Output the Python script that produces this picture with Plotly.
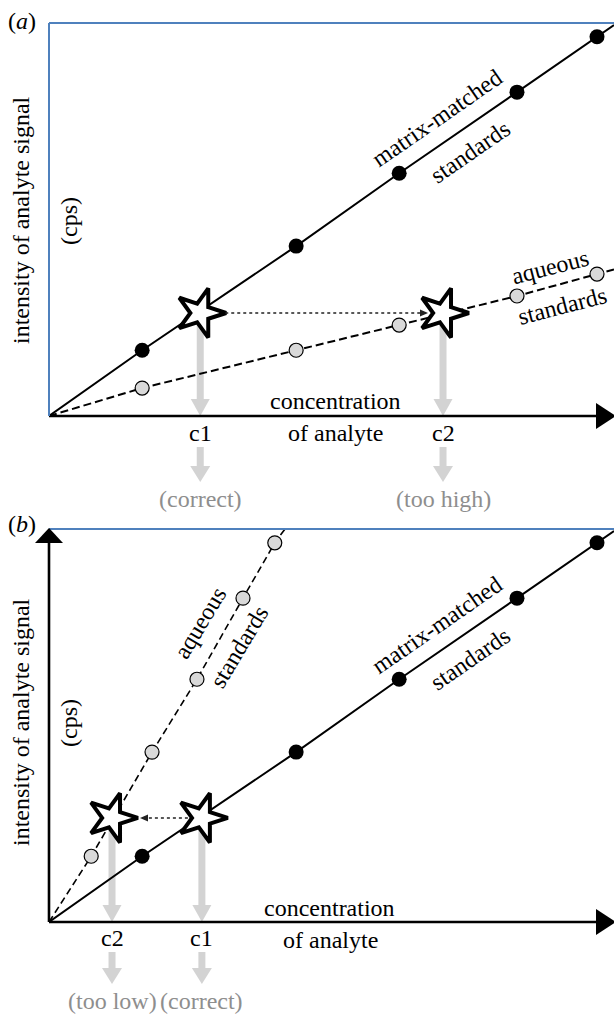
import math
import plotly.graph_objects as go

# ---------------- data ----------------
std_conc = [1.70, 4.51, 6.39, 8.54, 10.0]          # standards concentrations (matrix-matched; aqueous in (a))
matrix_signal = [1.20, 3.10, 4.43, 5.91, 6.92]      # matrix-matched standards signal (both panels)
aq_signal_a = [0.51, 1.20, 1.66, 2.19, 2.59]        # aqueous standards signal, panel (a)
aq_conc_b = [0.77, 1.88, 2.70, 3.54, 4.12]          # aqueous standards concentration, panel (b)
aq_signal_b = [1.20, 3.10, 4.43, 5.91, 6.92]        # aqueous standards signal, panel (b)
sample_signal = {"a": 1.88, "b": 1.90}
sample_conc = {"a": {"c1": 2.76, "c2": 7.19}, "b": {"c1": 2.79, "c2": 1.15}}
verdicts = {"a": {"c1": "(correct)", "c2": "(too high)"},
            "b": {"c1": "(correct)", "c2": "(too low)"}}

# ---------------- layout constants (pixels) ----------------
W, H = 614, 1014
X0 = 49            # origin x (px)
S = 54.8           # px per data unit (both axes)
Y0 = {"a": 416, "b": 922}   # origin y (px)
YT = {"a": 23, "b": 529}    # top of panel (px)
XMAX = (W - X0) / S
YMAX = (Y0["a"] - YT["a"]) / S

FONT = "Liberation Serif, Times New Roman, serif"
FS = 24
GRAY = "#d3d3d3"
TXTGRAY = "#8e8e8e"
BLUE = "#4f81bd"


def px(p):
    return p / W


def py(p):
    return 1 - p / H


def PX(c):
    return px(X0 + c * S)


def PY(v, panel):
    return py(Y0[panel] - v * S)


def slope(xs, ys):
    return sum(a * b for a, b in zip(xs, ys)) / sum(a * a for a in xs)


fig = go.Figure()
ax = {"a": ("x", "y"), "b": ("x2", "y2")}

# calibration lines
m_slope = slope(std_conc, matrix_signal)
aq_slope_a = slope(std_conc, aq_signal_a)
aq_slope_b = slope(aq_conc_b, aq_signal_b)

for p in ("a", "b"):
    xa, ya = ax[p]
    fig.add_trace(go.Scatter(x=[0] + std_conc + [XMAX], y=[0] + matrix_signal + [m_slope * XMAX],
                             mode="lines", line=dict(color="black", width=2),
                             xaxis=xa, yaxis=ya, hoverinfo="skip", showlegend=False))

fig.add_trace(go.Scatter(x=[0] + std_conc + [XMAX], y=[0] + aq_signal_a + [aq_slope_a * XMAX],
                         mode="lines", line=dict(color="black", width=2, dash="8px,4px"),
                         xaxis="x", yaxis="y", hoverinfo="skip", showlegend=False))
fig.add_trace(go.Scatter(x=[0] + aq_conc_b + [YMAX / aq_slope_b], y=[0] + aq_signal_b + [YMAX],
                         mode="lines", line=dict(color="black", width=1.6, dash="7px,4px"),
                         xaxis="x2", yaxis="y2", hoverinfo="skip", showlegend=False))

# standards markers
gray_marker = dict(symbol="circle", size=14, color="#d9d9d9", line=dict(color="black", width=1.2))
black_marker = dict(symbol="circle", size=15, color="black", line=dict(color="black", width=0))
fig.add_trace(go.Scatter(x=std_conc, y=aq_signal_a, mode="markers", marker=gray_marker,
                         xaxis="x", yaxis="y", showlegend=False, cliponaxis=False))
fig.add_trace(go.Scatter(x=aq_conc_b, y=aq_signal_b, mode="markers", marker=gray_marker,
                         xaxis="x2", yaxis="y2", showlegend=False, cliponaxis=False))
for p in ("a", "b"):
    xa, ya = ax[p]
    fig.add_trace(go.Scatter(x=std_conc, y=matrix_signal, mode="markers", marker=black_marker,
                             xaxis=xa, yaxis=ya, showlegend=False, cliponaxis=False))

# sample stars
for p in ("a", "b"):
    xa, ya = ax[p]
    cs = sample_conc[p]
    fig.add_trace(go.Scatter(x=[cs["c1"], cs["c2"]], y=[sample_signal[p]] * 2, mode="markers",
                             marker=dict(symbol="star", size=37, color="white", angle=18,
                                         line=dict(color="black", width=4)),
                             xaxis=xa, yaxis=ya, showlegend=False, cliponaxis=False))

shapes = []
annotations = []


def line(x0, y0, x1, y1, color, width, dash=None, layer="above"):
    d = dict(type="line", xref="paper", yref="paper", x0=x0, y0=y0, x1=x1, y1=y1,
             line=dict(color=color, width=width), layer=layer)
    if dash:
        d["line"]["dash"] = dash
    shapes.append(d)


def tri(pts, color, layer="above"):
    path = "M " + " L ".join(f"{a},{b}" for a, b in pts) + " Z"
    shapes.append(dict(type="path", xref="paper", yref="paper", path=path,
                       fillcolor=color, line=dict(color=color, width=0), layer=layer))


def ann(text, xpix, ypix, angle=0, color="black", size=FS):
    annotations.append(dict(text=text, xref="paper", yref="paper", x=px(xpix), y=py(ypix),
                            xanchor="center", yanchor="middle", showarrow=False, textangle=angle,
                            font=dict(family=FONT, size=size, color=color)))


# frames and axes
for p in ("a", "b"):
    line(px(X0), py(YT[p]), px(W), py(YT[p]), BLUE, 2)
    line(px(X0), py(Y0[p]), px(598), py(Y0[p]), "black", 2.6)
    tri([(px(596), py(Y0[p] - 13)), (px(596), py(Y0[p] + 13)), (px(616), py(Y0[p]))], "black")
line(px(X0), py(YT["a"]), px(X0), py(Y0["a"]), BLUE, 2)
line(px(X0), py(541), px(X0), py(Y0["b"]), "black", 2.6)
tri([(px(X0 - 14), py(543)), (px(X0 + 14), py(543)), (px(X0), py(528))], "black")

# gray read-off arrows
small = {"a": (447, 466, 482), "b": (952, 968, 984)}
for p in ("a", "b"):
    for key, c in sample_conc[p].items():
        xc = X0 + c * S
        line(PX(c), PY(sample_signal[p], p), PX(c), py(Y0[p] - 16), GRAY, 7, layer="below")
        tri([(px(xc - 9.5), py(Y0[p] - 17)), (px(xc + 9.5), py(Y0[p] - 17)), (px(xc), py(Y0[p]))], GRAY, layer="below")
        s0, s1, s2 = small[p]
        line(PX(c), py(s0), PX(c), py(s1 + 1), GRAY, 7)
        tri([(px(xc - 10), py(s1)), (px(xc + 10), py(s1)), (px(xc), py(s2))], GRAY)

# dotted arrows between stars
sa = sample_signal["a"]
ya_px = Y0["a"] - sa * S
x_start = X0 + sample_conc["a"]["c1"] * S + 25
x_tip = X0 + sample_conc["a"]["c2"] * S - 15
line(px(x_start), py(ya_px), px(x_tip - 6), py(ya_px), "#222222", 1.5, dash="dot")
tri([(px(x_tip - 8), py(ya_px - 3.5)), (px(x_tip - 8), py(ya_px + 3.5)), (px(x_tip), py(ya_px))], "#222222")

sb = sample_signal["b"]
yb_px = Y0["b"] - sb * S
x_start = X0 + sample_conc["b"]["c1"] * S - 14
x_tip = X0 + sample_conc["b"]["c2"] * S + 28
line(px(x_start), py(yb_px), px(x_tip + 6), py(yb_px), "#222222", 1.5, dash="dot")
tri([(px(x_tip + 8), py(yb_px - 3.5)), (px(x_tip + 8), py(yb_px + 3.5)), (px(x_tip), py(yb_px))], "#222222")

# texts
ann("(<i>a</i>)", 22, 21)
ann("(<i>b</i>)", 22, 524)
for p, yc in (("a", 220), ("b", 722)):
    ann("intensity of analyte signal", 21, yc, angle=-90)
    ann("(cps)", 69, yc + 1, angle=-90)
ann("concentration", 335, 401)
ann("of analyte", 335, 433)
ann("concentration", 329, 908)
ann("of analyte", 330, 940)
lab_y = {"a": (433, 499), "b": (938, 1001)}
for p in ("a", "b"):
    for key, c in sample_conc[p].items():
        ann(key, X0 + c * S, lab_y[p][0])
        ann(verdicts[p][key], X0 + c * S, lab_y[p][1], color=TXTGRAY)

ang_m = -math.degrees(math.atan(m_slope))
ang_aa = -math.degrees(math.atan(aq_slope_a))
ang_ab = -math.degrees(math.atan(aq_slope_b))
ann("matrix-matched", 437, 118, angle=ang_m)
ann("standards", 470, 152, angle=ang_m)
ann("aqueous", 550, 267, angle=ang_aa)
ann("standards", 562, 306, angle=ang_aa)
ann("matrix-matched", 437, 625, angle=ang_m)
ann("standards", 470, 659, angle=ang_m)
ann("aqueous", 200, 623, angle=ang_ab)
ann("standards", 239, 647, angle=ang_ab)

hidden = dict(visible=False, showgrid=False, zeroline=False, fixedrange=True)
fig.update_layout(
    width=W, height=H, autosize=False,
    margin=dict(l=0, r=0, t=0, b=0),
    paper_bgcolor="white", plot_bgcolor="rgba(0,0,0,0)",
    xaxis=dict(domain=[X0 / W, 1], range=[0, XMAX], anchor="y", **hidden),
    yaxis=dict(domain=[(H - Y0["a"]) / H, (H - YT["a"]) / H], range=[0, YMAX], anchor="x", **hidden),
    xaxis2=dict(domain=[X0 / W, 1], range=[0, XMAX], anchor="y2", **hidden),
    yaxis2=dict(domain=[(H - Y0["b"]) / H, (H - YT["b"]) / H], range=[0, YMAX], anchor="x2", **hidden),
    shapes=shapes, annotations=annotations, showlegend=False,
)

fig.write_html("out.html", config={"displayModeBar": False},
               post_script="document.body.style.margin='0px';document.body.style.overflow='hidden';")
